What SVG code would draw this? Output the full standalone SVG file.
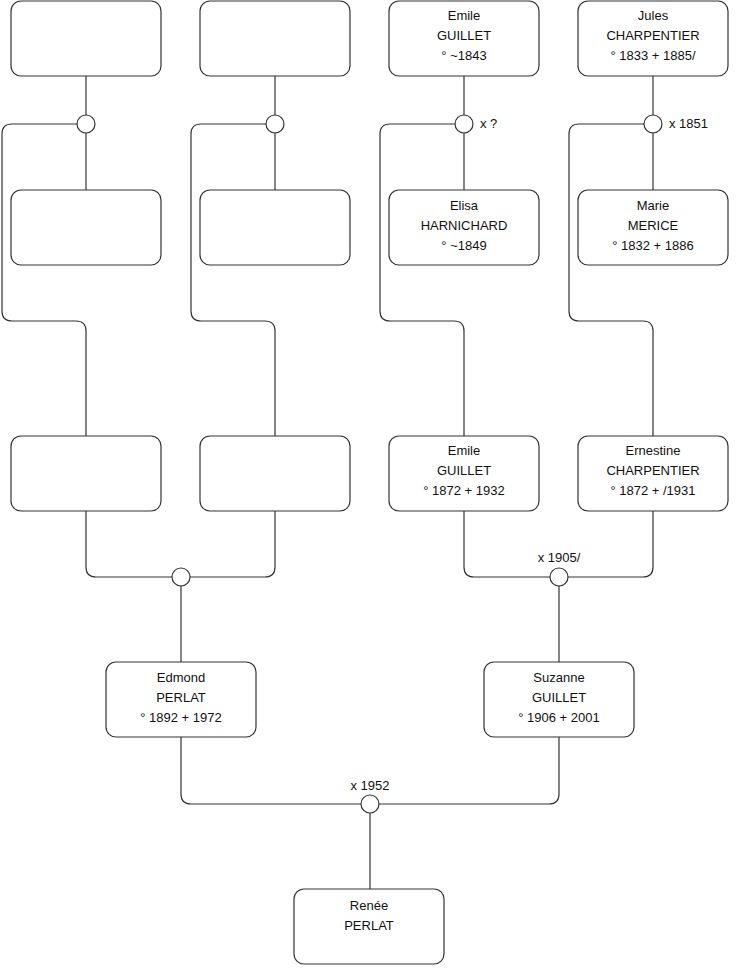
<svg xmlns="http://www.w3.org/2000/svg" width="740" height="975" viewBox="0 0 740 975">
<style>
.box{fill:#fff;stroke:#333;stroke-width:1.2}
.cir{fill:#fff;stroke:#333;stroke-width:1.2}
.ln{fill:none;stroke:#333;stroke-width:1.2}
text{font-family:"Liberation Sans",Arial,sans-serif;font-size:13px;fill:#111}
.c{text-anchor:middle}
</style>
<rect width="740" height="975" fill="#fff"/>
<g id="connectors">
<path class="ln" d="M86,76 V190"/>
<path class="ln" d="M275,76 V190"/>
<path class="ln" d="M464,76 V190"/>
<path class="ln" d="M653,76 V190"/>
<path class="ln" d="M77,124 H12 Q2,124 2,134 V311 Q2,321 12,321 H76 Q86,321 86,331 V436"/>
<path class="ln" d="M266,124 H201 Q191,124 191,134 V311 Q191,321 201,321 H265 Q275,321 275,331 V436"/>
<path class="ln" d="M455,124 H390 Q380,124 380,134 V311 Q380,321 390,321 H454 Q464,321 464,331 V436"/>
<path class="ln" d="M644,124 H579 Q569,124 569,134 V311 Q569,321 579,321 H643 Q653,321 653,331 V436"/>
<path class="ln" d="M86,511 V567 Q86,577 96,577 H172"/>
<path class="ln" d="M275,511 V567 Q275,577 265,577 H190"/>
<path class="ln" d="M181,586 V662"/>
<path class="ln" d="M464,511 V567 Q464,577 474,577 H550"/>
<path class="ln" d="M653,511 V567 Q653,577 643,577 H568"/>
<path class="ln" d="M559,586 V662"/>
<path class="ln" d="M181,737 V794 Q181,804 191,804 H361"/>
<path class="ln" d="M559,737 V794 Q559,804 549,804 H379"/>
<path class="ln" d="M370,813 V889"/>
</g>
<g id="unions">
<circle class="cir" cx="86" cy="124" r="9"/>
<circle class="cir" cx="275" cy="124" r="9"/>
<circle class="cir" cx="464" cy="124" r="9"/>
<text x="480" y="128">x ?</text>
<circle class="cir" cx="653" cy="124" r="9"/>
<text x="669" y="128">x 1851</text>
<circle class="cir" cx="181" cy="577" r="9"/>
<circle class="cir" cx="559" cy="577" r="9"/>
<text class="c" x="559" y="562">x 1905/</text>
<circle class="cir" cx="370" cy="804" r="9"/>
<text class="c" x="370" y="790">x 1952</text>
</g>
<g id="p1"><rect class="box" x="11" y="1" width="150" height="75" rx="10"/></g>
<g id="p2"><rect class="box" x="200" y="1" width="150" height="75" rx="10"/></g>
<g id="p3"><rect class="box" x="389" y="1" width="150" height="75" rx="10"/>
<text class="c" x="464" y="20">Emile</text><text class="c" x="464" y="40">GUILLET</text><text class="c" x="464" y="60">° ~1843</text></g>
<g id="p4"><rect class="box" x="578" y="1" width="150" height="75" rx="10"/>
<text class="c" x="653" y="20">Jules</text><text class="c" x="653" y="40">CHARPENTIER</text><text class="c" x="653" y="60">° 1833 + 1885/</text></g>
<g id="p5"><rect class="box" x="11" y="190" width="150" height="75" rx="10"/></g>
<g id="p6"><rect class="box" x="200" y="190" width="150" height="75" rx="10"/></g>
<g id="p7"><rect class="box" x="389" y="190" width="150" height="75" rx="10"/>
<text class="c" x="464" y="210">Elisa</text><text class="c" x="464" y="230">HARNICHARD</text><text class="c" x="464" y="250">° ~1849</text></g>
<g id="p8"><rect class="box" x="578" y="190" width="150" height="75" rx="10"/>
<text class="c" x="653" y="210">Marie</text><text class="c" x="653" y="230">MERICE</text><text class="c" x="653" y="250">° 1832 + 1886</text></g>
<g id="p9"><rect class="box" x="11" y="436" width="150" height="75" rx="10"/></g>
<g id="p10"><rect class="box" x="200" y="436" width="150" height="75" rx="10"/></g>
<g id="p11"><rect class="box" x="389" y="436" width="150" height="75" rx="10"/>
<text class="c" x="464" y="455">Emile</text><text class="c" x="464" y="475">GUILLET</text><text class="c" x="464" y="495">° 1872 + 1932</text></g>
<g id="p12"><rect class="box" x="578" y="436" width="150" height="75" rx="10"/>
<text class="c" x="653" y="455">Ernestine</text><text class="c" x="653" y="475">CHARPENTIER</text><text class="c" x="653" y="495">° 1872 + /1931</text></g>
<g id="p13"><rect class="box" x="106" y="662" width="150" height="75" rx="10"/>
<text class="c" x="181" y="682">Edmond</text><text class="c" x="181" y="702">PERLAT</text><text class="c" x="181" y="722">° 1892 + 1972</text></g>
<g id="p14"><rect class="box" x="484" y="662" width="150" height="75" rx="10"/>
<text class="c" x="559" y="682">Suzanne</text><text class="c" x="559" y="702">GUILLET</text><text class="c" x="559" y="722">° 1906 + 2001</text></g>
<g id="p15"><rect class="box" x="294" y="889" width="150" height="75" rx="10"/>
<text class="c" x="369" y="910">Renée</text><text class="c" x="369" y="930">PERLAT</text></g>
</svg>
